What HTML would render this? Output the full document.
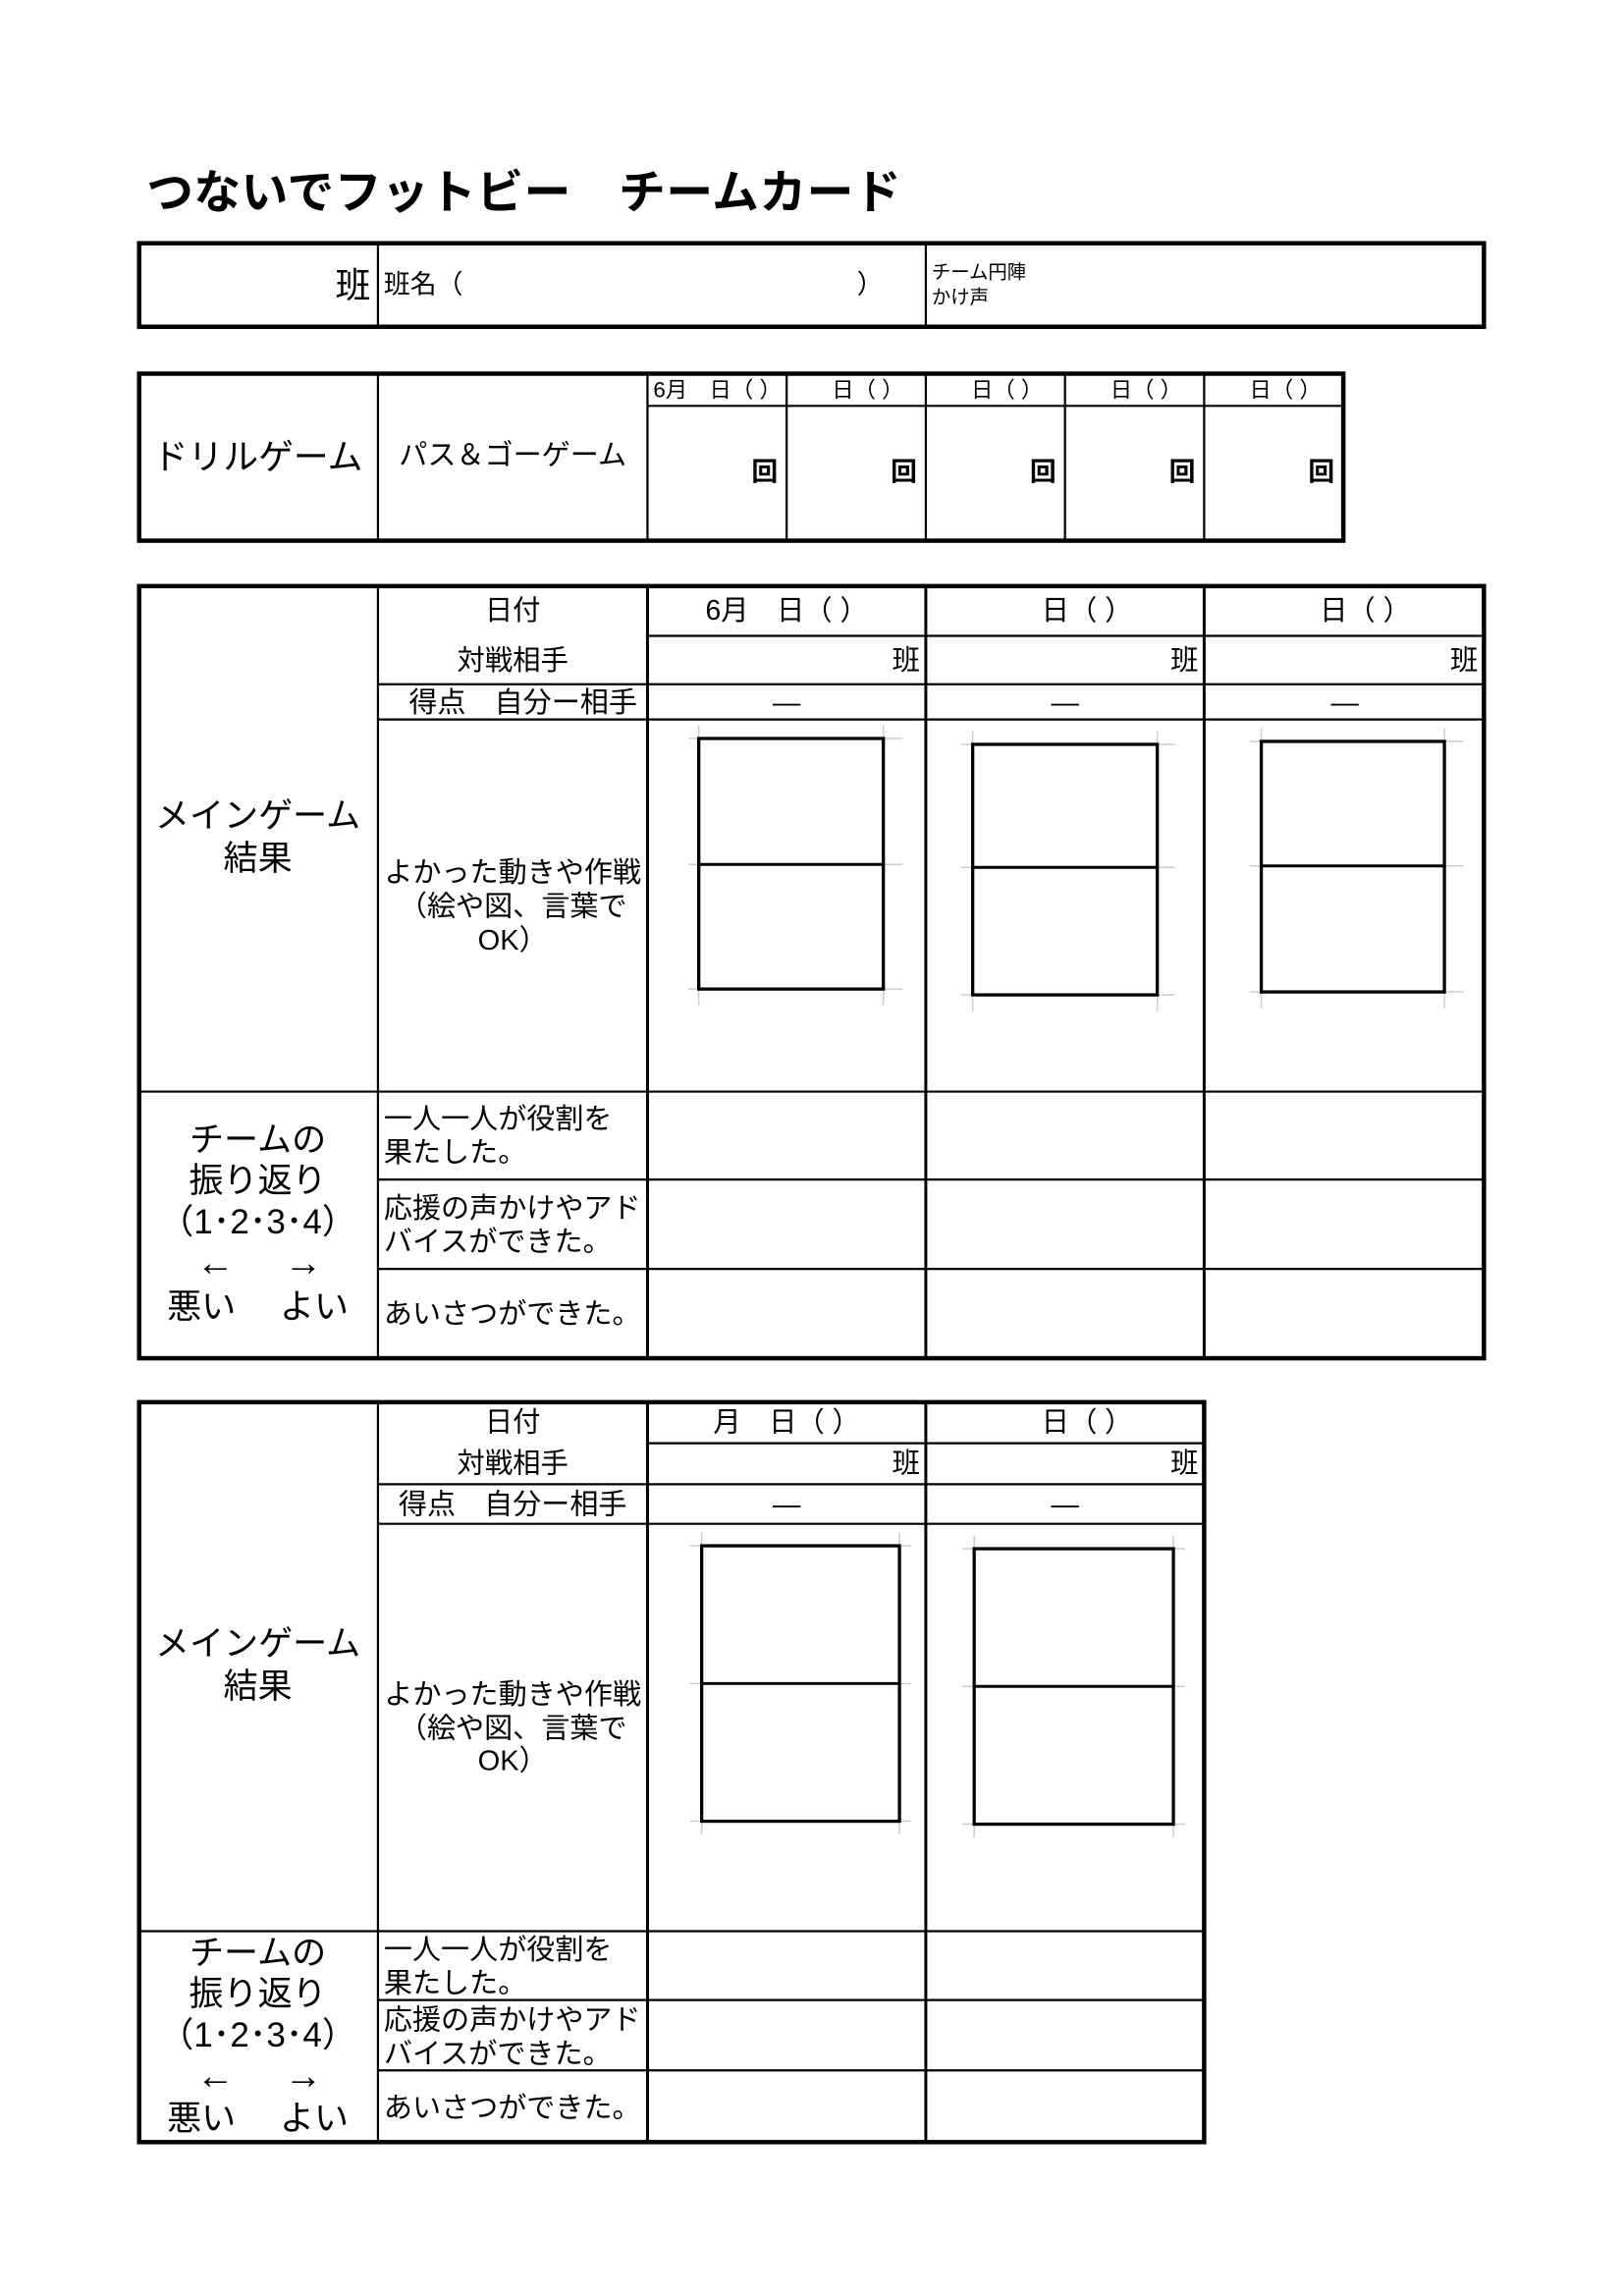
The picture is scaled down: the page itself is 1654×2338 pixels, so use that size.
<!DOCTYPE html>
<html><head><meta charset="utf-8"><style>
html,body{margin:0;padding:0;background:#fff;}
svg{display:block;}
text{font-family:"Liberation Sans","Noto Sans CJK JP",sans-serif;fill:#000;dominant-baseline:central;}
</style></head><body>
<svg width="1654" height="2338" viewBox="0 0 1108.6 1567" xmlns="http://www.w3.org/2000/svg">
<rect width="1108.6" height="1567" fill="#fff"/>
<!-- Title -->
<text x="100" y="132" font-size="32" font-weight="bold" textLength="515">つないでフットビー　チームカード</text>

<!-- Table 1 -->
<g stroke="#000" fill="none">
<rect x="95" y="166" width="918" height="57" stroke-width="3"/>
<line x1="258" y1="166" x2="258" y2="223" stroke-width="1.5"/>
<line x1="632" y1="166" x2="632" y2="223" stroke-width="1.5"/>
</g>
<text x="253" y="195" font-size="24" text-anchor="end">班</text>
<text x="262" y="194" font-size="18">班名（</text>
<text x="585" y="194" font-size="18">）</text>
<text x="636" y="186" font-size="13">チーム円陣</text>
<text x="636" y="203" font-size="13">かけ声</text>

<!-- Table 2 -->
<g stroke="#000" fill="none">
<rect x="95" y="255" width="822" height="114" stroke-width="3"/>
<line x1="258" y1="255" x2="258" y2="369" stroke-width="1.5"/>
<line x1="442" y1="255" x2="442" y2="369" stroke-width="1.5"/>
<line x1="537" y1="255" x2="537" y2="369" stroke-width="1.5"/>
<line x1="632" y1="255" x2="632" y2="369" stroke-width="1.5"/>
<line x1="727" y1="255" x2="727" y2="369" stroke-width="1.5"/>
<line x1="822" y1="255" x2="822" y2="369" stroke-width="1.5"/>
<line x1="442" y1="277" x2="917" y2="277" stroke-width="1.5"/>
</g>
<text x="176" y="312" font-size="24" text-anchor="middle">ドリルゲーム</text>
<text x="350" y="311" font-size="19.5" text-anchor="middle">パス＆ゴーゲーム</text>
<text x="446" y="266" font-size="15">6月　日（ ）</text>
<text x="617" y="266" font-size="15" text-anchor="end">日（ ）</text>
<text x="712" y="266" font-size="15" text-anchor="end">日（ ）</text>
<text x="807" y="266" font-size="15" text-anchor="end">日（ ）</text>
<text x="902" y="266" font-size="15" text-anchor="end">日（ ）</text>
<text x="531" y="322" font-size="18" text-anchor="end" font-weight="bold">回</text>
<text x="626" y="322" font-size="18" text-anchor="end" font-weight="bold">回</text>
<text x="721" y="322" font-size="18" text-anchor="end" font-weight="bold">回</text>
<text x="816" y="322" font-size="18" text-anchor="end" font-weight="bold">回</text>
<text x="911" y="322" font-size="18" text-anchor="end" font-weight="bold">回</text>

<!-- Table 3 -->
<g stroke="#000" fill="none">
<rect x="95" y="400" width="918" height="527" stroke-width="3"/>
<line x1="258" y1="400" x2="258" y2="927" stroke-width="1.5"/>
<line x1="442" y1="400" x2="442" y2="927" stroke-width="2"/>
<line x1="632" y1="400" x2="632" y2="927" stroke-width="2"/>
<line x1="822" y1="400" x2="822" y2="927" stroke-width="2"/>
<line x1="442" y1="434" x2="1013" y2="434" stroke-width="1.5"/>
<line x1="258" y1="467" x2="1013" y2="467" stroke-width="1.5"/>
<line x1="258" y1="491" x2="1013" y2="491" stroke-width="1.5"/>
<line x1="95" y1="745" x2="1013" y2="745" stroke-width="1.5"/>
<line x1="258" y1="805" x2="1013" y2="805" stroke-width="1.5"/>
<line x1="258" y1="866" x2="1013" y2="866" stroke-width="1.5"/>
</g>
<text x="350" y="417" font-size="19" text-anchor="middle">日付</text>
<text x="350" y="451" font-size="19" text-anchor="middle">対戦相手</text>
<text x="357" y="480" font-size="19.5" text-anchor="middle">得点　自分ー相手</text>
<text x="537" y="417" font-size="19" text-anchor="middle">6月　日（ ）</text>
<text x="742" y="417" font-size="19" text-anchor="middle">日（ ）</text>
<text x="932" y="417" font-size="19" text-anchor="middle">日（ ）</text>
<text x="628" y="451" font-size="19" text-anchor="end">班</text>
<text x="818" y="451" font-size="19" text-anchor="end">班</text>
<text x="1009" y="451" font-size="19" text-anchor="end">班</text>
<text x="537" y="480" font-size="19" text-anchor="middle">―</text>
<text x="727" y="480" font-size="19" text-anchor="middle">―</text>
<text x="918" y="480" font-size="19" text-anchor="middle">―</text>
<text x="176" y="557" font-size="23.5" text-anchor="middle">メインゲーム</text>
<text x="176" y="586" font-size="23.5" text-anchor="middle">結果</text>
<text x="350" y="596" font-size="19.5" text-anchor="middle">よかった動きや作戦</text>
<text x="350" y="619" font-size="19.5" text-anchor="middle">（絵や図、言葉で</text>
<text x="350" y="642" font-size="19.5" text-anchor="middle">OK）</text>
<text x="176" y="778" font-size="23.5" text-anchor="middle">チームの</text>
<text x="176" y="806" font-size="23.5" text-anchor="middle">振り返り</text>
<text x="176" y="834" font-size="23.5" text-anchor="middle">（1･2･3･4）</text>
<text x="147" y="862" font-size="26" text-anchor="middle">←</text>
<text x="207" y="862" font-size="26" text-anchor="middle">→</text>
<text x="176" y="892" font-size="23.5" text-anchor="middle">悪い　 よい</text>
<text x="262" y="764" font-size="19.5">一人一人が役割を</text>
<text x="262" y="787" font-size="19.5">果たした。</text>
<text x="262" y="825" font-size="19.5">応援の声かけやアド</text>
<text x="262" y="848" font-size="19.5">バイスができた。</text>
<text x="262" y="897" font-size="19.5">あいさつができた。</text>

<!-- courts table 3 -->
<g>
<g stroke="#ccc" stroke-width="1"><line x1="470" y1="504" x2="616" y2="504"/><line x1="470" y1="590" x2="616" y2="590"/><line x1="470" y1="675" x2="616" y2="675"/><line x1="477" y1="495" x2="477" y2="686"/><line x1="603" y1="495" x2="603" y2="686"/></g>
<rect x="477" y="504" width="126" height="171" fill="none" stroke="#000" stroke-width="2.2"/>
<line x1="477" y1="590" x2="603" y2="590" stroke="#000" stroke-width="2"/>
</g>
<g>
<g stroke="#ccc" stroke-width="1"><line x1="656" y1="508" x2="802" y2="508"/><line x1="656" y1="592" x2="802" y2="592"/><line x1="656" y1="679" x2="802" y2="679"/><line x1="664" y1="499" x2="664" y2="690"/><line x1="790" y1="499" x2="790" y2="690"/></g>
<rect x="664" y="508" width="126" height="171" fill="none" stroke="#000" stroke-width="2.2"/>
<line x1="664" y1="592" x2="790" y2="592" stroke="#000" stroke-width="2"/>
</g>
<g>
<g stroke="#ccc" stroke-width="1"><line x1="853" y1="506" x2="999" y2="506"/><line x1="853" y1="591" x2="999" y2="591"/><line x1="853" y1="677" x2="999" y2="677"/><line x1="861" y1="497" x2="861" y2="688"/><line x1="986" y1="497" x2="986" y2="688"/></g>
<rect x="861" y="506" width="125" height="171" fill="none" stroke="#000" stroke-width="2.2"/>
<line x1="861" y1="591" x2="986" y2="591" stroke="#000" stroke-width="2"/>
</g>

<!-- Table 4 -->
<g stroke="#000" fill="none">
<rect x="95" y="957" width="727" height="505" stroke-width="3"/>
<line x1="258" y1="957" x2="258" y2="1462" stroke-width="1.5"/>
<line x1="442" y1="957" x2="442" y2="1462" stroke-width="2"/>
<line x1="632" y1="957" x2="632" y2="1462" stroke-width="2"/>
<line x1="442" y1="985" x2="822" y2="985" stroke-width="1.5"/>
<line x1="258" y1="1013" x2="822" y2="1013" stroke-width="1.5"/>
<line x1="258" y1="1040" x2="822" y2="1040" stroke-width="1.5"/>
<line x1="95" y1="1318" x2="822" y2="1318" stroke-width="1.5"/>
<line x1="258" y1="1365" x2="822" y2="1365" stroke-width="1.5"/>
<line x1="258" y1="1413" x2="822" y2="1413" stroke-width="1.5"/>
</g>
<text x="350" y="971" font-size="19" text-anchor="middle">日付</text>
<text x="350" y="999" font-size="19" text-anchor="middle">対戦相手</text>
<text x="350" y="1027" font-size="19.5" text-anchor="middle">得点　自分ー相手</text>
<text x="537" y="971" font-size="19" text-anchor="middle">月　日（ ）</text>
<text x="742" y="971" font-size="19" text-anchor="middle">日（ ）</text>
<text x="628" y="999" font-size="19" text-anchor="end">班</text>
<text x="818" y="999" font-size="19" text-anchor="end">班</text>
<text x="537" y="1027" font-size="19" text-anchor="middle">―</text>
<text x="727" y="1027" font-size="19" text-anchor="middle">―</text>
<text x="176" y="1122" font-size="23.5" text-anchor="middle">メインゲーム</text>
<text x="176" y="1151" font-size="23.5" text-anchor="middle">結果</text>
<text x="350" y="1157" font-size="19.5" text-anchor="middle">よかった動きや作戦</text>
<text x="350" y="1180" font-size="19.5" text-anchor="middle">（絵や図、言葉で</text>
<text x="350" y="1202" font-size="19.5" text-anchor="middle">OK）</text>
<text x="176" y="1333" font-size="23.5" text-anchor="middle">チームの</text>
<text x="176" y="1361" font-size="23.5" text-anchor="middle">振り返り</text>
<text x="176" y="1389" font-size="23.5" text-anchor="middle">（1･2･3･4）</text>
<text x="147" y="1417" font-size="26" text-anchor="middle">←</text>
<text x="207" y="1417" font-size="26" text-anchor="middle">→</text>
<text x="176" y="1446" font-size="23.5" text-anchor="middle">悪い　 よい</text>
<text x="262" y="1331" font-size="19.5">一人一人が役割を</text>
<text x="262" y="1354" font-size="19.5">果たした。</text>
<text x="262" y="1379" font-size="19.5">応援の声かけやアド</text>
<text x="262" y="1402" font-size="19.5">バイスができた。</text>
<text x="262" y="1439" font-size="19.5">あいさつができた。</text>

<!-- courts table 4 -->
<g>
<g stroke="#ccc" stroke-width="1"><line x1="471" y1="1055" x2="622" y2="1055"/><line x1="471" y1="1149" x2="622" y2="1149"/><line x1="471" y1="1243" x2="622" y2="1243"/><line x1="479" y1="1046" x2="479" y2="1252"/><line x1="614" y1="1046" x2="614" y2="1252"/></g>
<rect x="479" y="1055" width="135" height="188" fill="none" stroke="#000" stroke-width="2.2"/>
<line x1="479" y1="1149" x2="614" y2="1149" stroke="#000" stroke-width="2"/>
</g>
<g>
<g stroke="#ccc" stroke-width="1"><line x1="657" y1="1057" x2="809" y2="1057"/><line x1="657" y1="1151" x2="809" y2="1151"/><line x1="657" y1="1245" x2="809" y2="1245"/><line x1="665" y1="1048" x2="665" y2="1254"/><line x1="801" y1="1048" x2="801" y2="1254"/></g>
<rect x="665" y="1057" width="136" height="188" fill="none" stroke="#000" stroke-width="2.2"/>
<line x1="665" y1="1151" x2="801" y2="1151" stroke="#000" stroke-width="2"/>
</g>
</svg>
</body></html>
